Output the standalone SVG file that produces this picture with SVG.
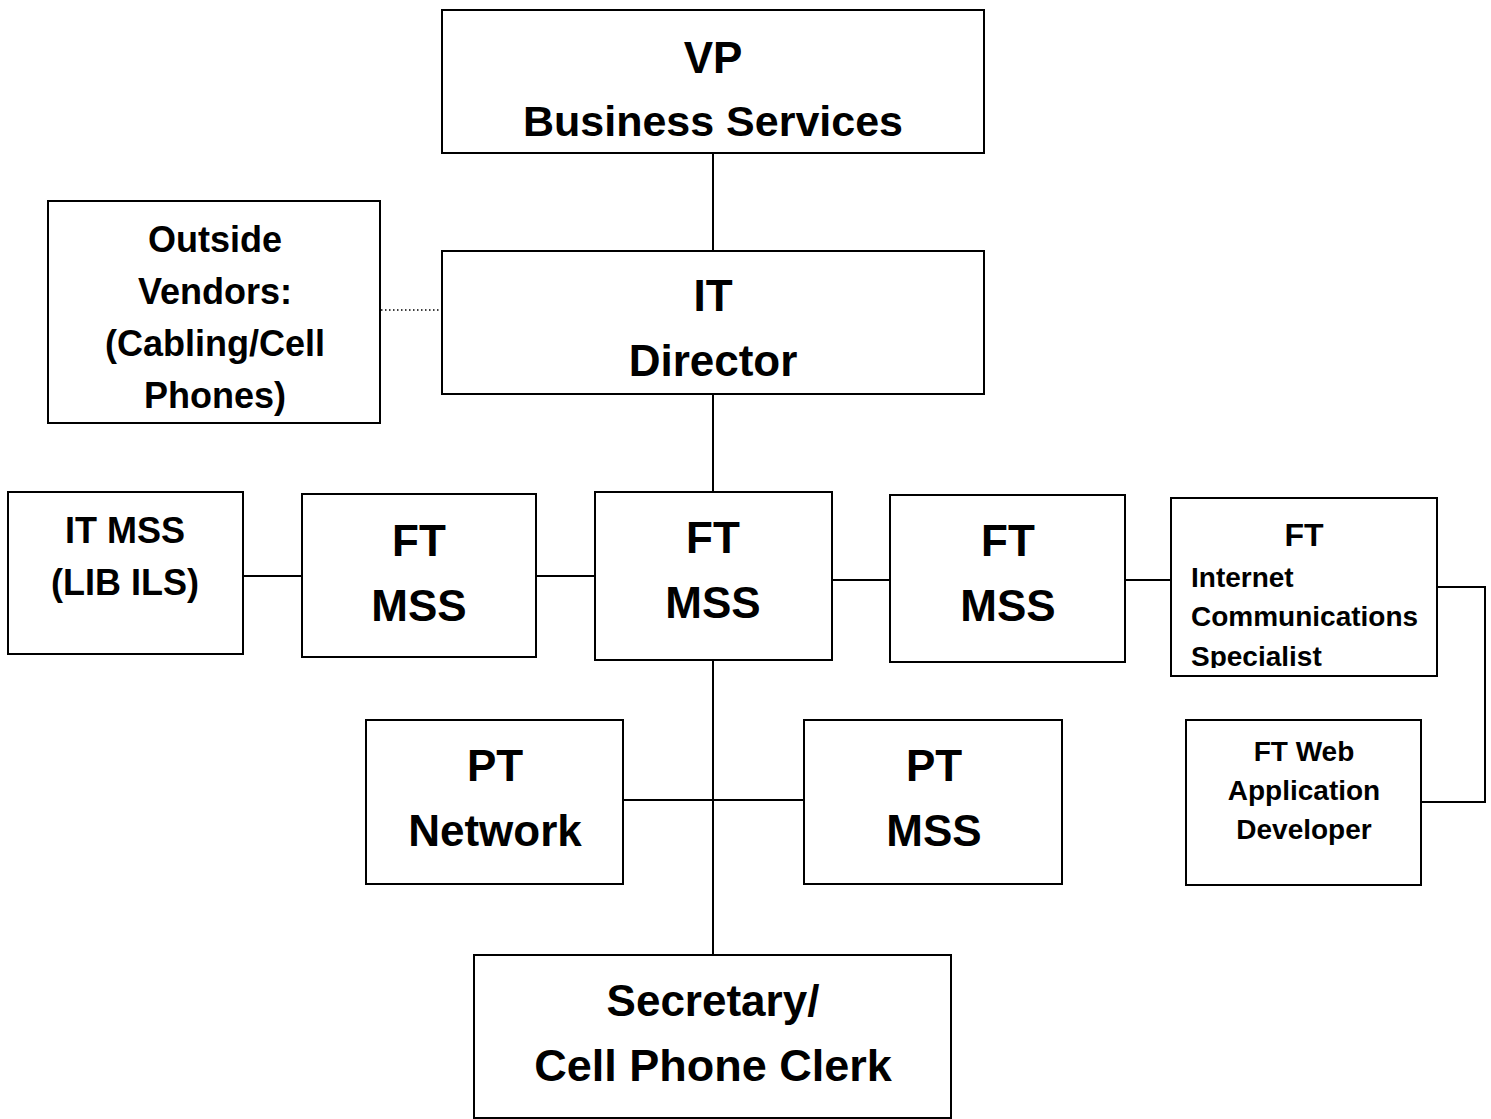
<svg xmlns="http://www.w3.org/2000/svg" width="1491" height="1119" viewBox="0 0 1491 1119">
  <style>
    .box { fill: #ffffff; stroke: #000000; stroke-width: 2; }
    .wire { fill: none; stroke: #000000; stroke-width: 2; }
    .dotted { fill: none; stroke: #000000; stroke-width: 1.5; stroke-dasharray: 1.5 2.5; }
    text { font-family: "Liberation Sans", Arial, sans-serif; font-weight: bold; fill: #000000; }
    .lg { font-size: 44px; text-anchor: middle; }
    .md { font-size: 36px; text-anchor: middle; }
    .sm { font-size: 28px; }
    .c { text-anchor: middle; }
  </style>
  <defs>
    <clipPath id="icsClip">
      <rect x="1171" y="498" width="266" height="170"/>
    </clipPath>
  </defs>

  <rect width="1491" height="1119" fill="#ffffff"/>

  <!-- reporting lines -->
  <g id="connectors">
    <line class="wire" x1="713" y1="153" x2="713" y2="251"/>
    <line class="dotted" x1="381" y1="310" x2="442" y2="310"/>
    <line class="wire" x1="713" y1="394" x2="713" y2="492"/>
    <line class="wire" x1="243" y1="576" x2="302" y2="576"/>
    <line class="wire" x1="536" y1="576" x2="595" y2="576"/>
    <line class="wire" x1="832" y1="580" x2="890" y2="580"/>
    <line class="wire" x1="1125" y1="580" x2="1171" y2="580"/>
    <polyline class="wire" points="1437,587 1485,587 1485,802 1421,802"/>
    <line class="wire" x1="713" y1="660" x2="713" y2="955"/>
    <line class="wire" x1="623" y1="800" x2="804" y2="800"/>
  </g>

  <g id="vp">
    <rect class="box" x="442" y="10" width="542" height="143"/>
    <text class="lg" x="713" y="73">VP</text>
    <text class="lg" x="713" y="136" style="font-size:43px">Business Services</text>
  </g>

  <g id="vendors">
    <rect class="box" x="48" y="201" width="332" height="222"/>
    <text class="md" x="215" y="252">Outside</text>
    <text class="md" x="215" y="304">Vendors:</text>
    <text class="md" x="215" y="356">(Cabling/Cell</text>
    <text class="md" x="215" y="408">Phones)</text>
  </g>

  <g id="director">
    <rect class="box" x="442" y="251" width="542" height="143"/>
    <text class="lg" x="713" y="311">IT</text>
    <text class="lg" x="713" y="376">Director</text>
  </g>

  <g id="it-mss-lib">
    <rect class="box" x="8" y="492" width="235" height="162"/>
    <text class="md" x="125" y="543">IT MSS</text>
    <text class="md" x="125" y="595">(LIB ILS)</text>
  </g>

  <g id="ft-mss-left">
    <rect class="box" x="302" y="494" width="234" height="163"/>
    <text class="lg" x="419" y="556">FT</text>
    <text class="lg" x="419" y="621">MSS</text>
  </g>

  <g id="ft-mss-center">
    <rect class="box" x="595" y="492" width="237" height="168"/>
    <text class="lg" x="713" y="553">FT</text>
    <text class="lg" x="713" y="618">MSS</text>
  </g>

  <g id="ft-mss-right">
    <rect class="box" x="890" y="495" width="235" height="167"/>
    <text class="lg" x="1008" y="556">FT</text>
    <text class="lg" x="1008" y="621">MSS</text>
  </g>

  <g id="internet-specialist">
    <rect class="box" x="1171" y="498" width="266" height="178"/>
    <text class="sm c" x="1304" y="546" style="font-size:32px">FT</text>
    <g clip-path="url(#icsClip)">
      <text class="sm" x="1191" y="587">Internet</text>
      <text class="sm" x="1191" y="626">Communications</text>
      <text class="sm" x="1191" y="666">Specialist</text>
    </g>
  </g>

  <g id="web-developer">
    <rect class="box" x="1186" y="720" width="235" height="165"/>
    <text class="sm c" x="1304" y="761">FT Web</text>
    <text class="sm c" x="1304" y="800">Application</text>
    <text class="sm c" x="1304" y="839">Developer</text>
  </g>

  <g id="pt-network">
    <rect class="box" x="366" y="720" width="257" height="164"/>
    <text class="lg" x="495" y="781">PT</text>
    <text class="lg" x="495" y="846">Network</text>
  </g>

  <g id="pt-mss">
    <rect class="box" x="804" y="720" width="258" height="164"/>
    <text class="lg" x="934" y="781">PT</text>
    <text class="lg" x="934" y="846">MSS</text>
  </g>

  <g id="secretary">
    <rect class="box" x="474" y="955" width="477" height="163"/>
    <text class="lg" x="713" y="1016">Secretary/</text>
    <text class="lg" x="713" y="1081" style="font-size:45px">Cell Phone Clerk</text>
  </g>
</svg>
